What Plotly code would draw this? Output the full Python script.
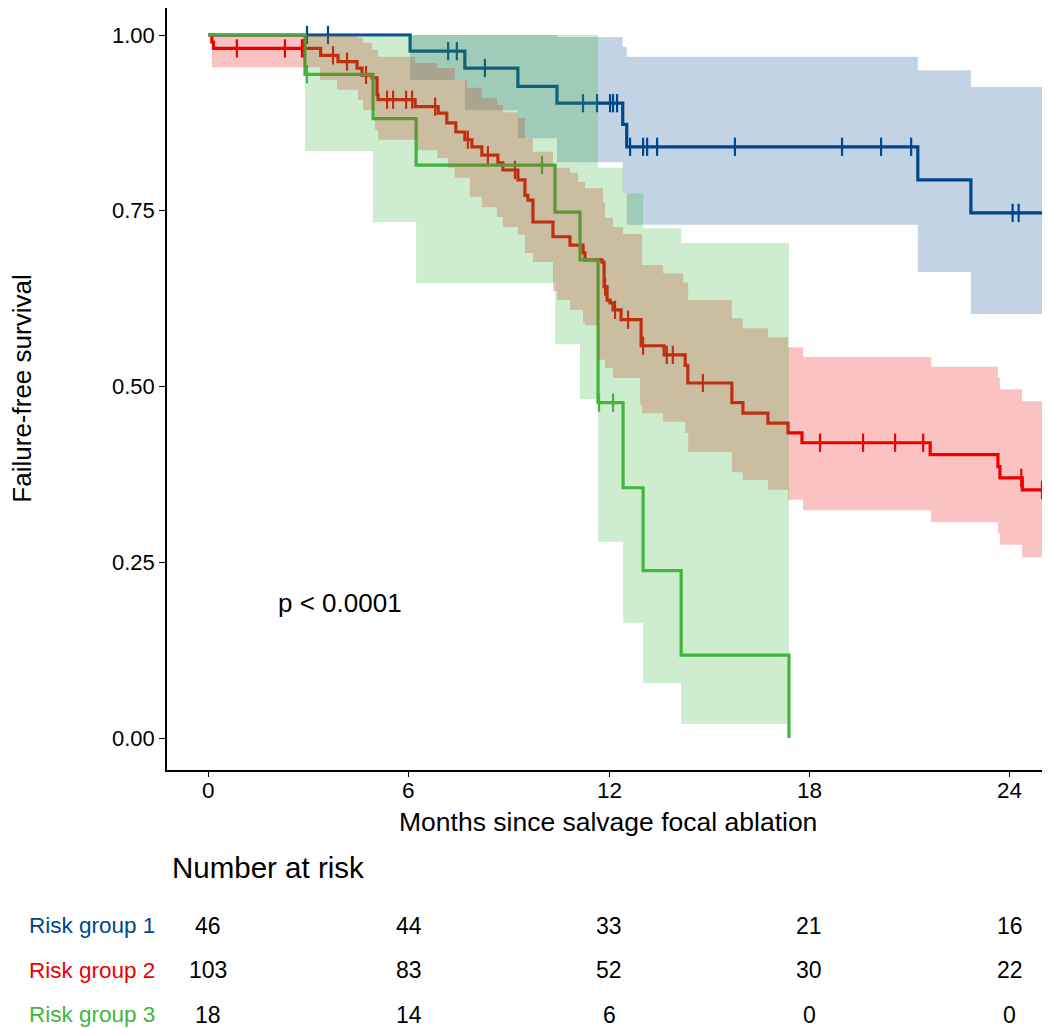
import numpy as np
import plotly.graph_objects as go

# ---------------- data ----------------
groups = ["Risk group 1", "Risk group 2", "Risk group 3"]
colors = ["#00468B", "#ED0000", "#42B540"]
band_rgba = ["rgba(0,70,139,0.24)", "rgba(237,0,0,0.24)", "rgba(66,181,64,0.26)"]

# Risk group 1 (KM steps)
g1_t = [0, 6.04, 7.68, 9.27, 10.44, 12.41, 12.53, 21.25, 22.84, 25.6]
g1_s = [1.0, 0.977, 0.953, 0.927, 0.903, 0.873, 0.841, 0.794, 0.747, 0.747]
g1_cens = [2.95, 3.58, 7.18, 7.44, 8.28, 11.22, 11.64, 12.03, 12.12, 12.24, 12.63,
           13.02, 13.14, 13.44, 15.77, 18.98, 20.15, 21.05, 24.09, 24.27]
g1_bt = [0, 6.04, 7.68, 9.27, 10.44, 12.41, 12.53, 21.25, 22.84, 25.6]
g1_lo = [1.0, 0.936, 0.893, 0.853, 0.819, 0.775, 0.730, 0.663, 0.603, 0.603]
g1_hi = [1.0, 1.0, 1.0, 1.0, 0.997, 0.983, 0.969, 0.950, 0.926, 0.926]

# Risk group 2
g2_t = [0, 0.10, 0.15, 3.36, 3.88, 4.45, 4.60, 4.90, 5.05, 5.08, 6.19, 6.88, 7.14,
        7.41, 7.68, 7.89, 8.19, 8.67, 8.82, 9.27, 9.48, 9.57, 9.72, 10.32, 10.83,
        11.22, 11.28, 11.79, 11.85, 11.94, 12.03, 12.12, 12.36, 12.96, 13.65,
        14.28, 14.36, 15.68, 16.01, 16.76, 17.36, 17.78, 21.62, 23.65, 23.71,
        24.38, 25.6]
g2_s = [1.0, 0.990, 0.981, 0.971, 0.962, 0.953, 0.943, 0.939, 0.915, 0.908, 0.898,
        0.889, 0.875, 0.862, 0.851, 0.841, 0.829, 0.818, 0.808, 0.794, 0.772, 0.765,
        0.734, 0.713, 0.701, 0.690, 0.680, 0.677, 0.642, 0.623, 0.619, 0.609, 0.595,
        0.558, 0.545, 0.530, 0.505, 0.477, 0.462, 0.448, 0.434, 0.420, 0.403, 0.386,
        0.370, 0.353, 0.353]
g2_cens = [0.85, 2.29, 2.80, 2.86, 3.73, 4.15, 4.72, 5.35, 5.53, 5.92, 6.10, 6.79,
           7.77, 8.37, 9.18, 11.88, 12.18, 12.57, 13.02, 13.73, 13.91, 14.81, 18.32,
           19.61, 20.57, 21.41, 24.35, 24.97]
g2_bt = [0, 0.10, 3.34, 3.85, 4.48, 4.63, 4.90, 4.99, 5.08, 6.19, 6.25, 6.85, 7.17,
         7.38, 7.74, 7.83, 8.19, 8.64, 8.82, 9.27, 9.48, 9.72, 10.32, 10.44, 10.83,
         11.07, 11.22, 11.28, 11.67, 11.82, 11.88, 12.12, 12.42, 12.93, 12.99, 13.62,
         14.22, 14.28, 14.37, 15.68, 16.01, 16.76, 17.36, 17.81, 21.65, 23.65, 23.71,
         24.37, 25.6]
g2_lo = [1.0, 0.954, 0.936, 0.922, 0.908, 0.893, 0.893, 0.865, 0.851, 0.851, 0.836,
         0.825, 0.811, 0.797, 0.797, 0.770, 0.755, 0.741, 0.727, 0.716, 0.690, 0.677,
         0.636, 0.623, 0.609, 0.609, 0.590, 0.587, 0.538, 0.538, 0.526, 0.512, 0.512,
         0.474, 0.462, 0.450, 0.450, 0.434, 0.407, 0.378, 0.367, 0.353, 0.339, 0.324,
         0.307, 0.291, 0.275, 0.257, 0.257]
g2_hi = [1.0, 1.0, 1.0, 1.0, 0.996, 0.989, 0.979, 0.979, 0.969, 0.960, 0.960, 0.953,
         0.953, 0.936, 0.925, 0.925, 0.910, 0.900, 0.890, 0.882, 0.853, 0.834, 0.815,
         0.811, 0.804, 0.791, 0.791, 0.782, 0.782, 0.762, 0.740, 0.727, 0.717, 0.717,
         0.673, 0.661, 0.648, 0.648, 0.623, 0.597, 0.583, 0.570, 0.556, 0.542, 0.528,
         0.512, 0.496, 0.479, 0.479]

# Risk group 3
g3_t = [0, 2.89, 4.93, 6.22, 10.38, 11.13, 11.67, 12.42, 13.02, 14.16, 17.39, 17.39]
g3_s = [1.0, 0.944, 0.881, 0.815, 0.748, 0.680, 0.477, 0.356, 0.238, 0.118, 0.0, 0.0]
g3_cens = [2.95, 9.99, 11.70, 12.12]
g3_bt = [0, 2.89, 4.93, 6.22, 10.38, 11.13, 11.67, 12.42, 13.02, 14.16, 17.39]
g3_lo = [1.0, 0.835, 0.734, 0.647, 0.560, 0.482, 0.279, 0.164, 0.078, 0.020, 0.020]
g3_hi = [1.0, 1.0, 1.0, 1.0, 1.0, 1.0, 0.811, 0.775, 0.725, 0.704, 0.704]

risk_times = [0, 6, 12, 18, 24]
risk_counts = [[46, 44, 33, 21, 16],
               [103, 83, 52, 30, 22],
               [18, 14, 6, 0, 0]]

x_ticks = [0, 6, 12, 18, 24]
x_tick_text = ["0", "6", "12", "18", "24"]
y_ticks = [0.0, 0.25, 0.5, 0.75, 1.0]
y_tick_text = ["0.00", "0.25", "0.50", "0.75", "1.00"]
pval_text = "p < 0.0001"

# ---------------- figure ----------------
FONT = "Liberation Sans, Arial, sans-serif"
fig = go.Figure()

curves = [(g1_t, g1_s, g1_cens), (g2_t, g2_s, g2_cens), (g3_t, g3_s, g3_cens)]
bands = [(g1_bt, g1_lo, g1_hi), (g2_bt, g2_lo, g2_hi), (g3_bt, g3_lo, g3_hi)]

# lines first
for i, (t, s, c) in enumerate(curves):
    fig.add_trace(go.Scatter(x=t, y=s, mode="lines", line=dict(color=colors[i], width=3.2, shape="hv"),
                             showlegend=False, hoverinfo="skip"))
    ta = np.array(t)
    sa = np.array(s)
    idx = np.searchsorted(ta, np.array(c), side="right") - 1
    fig.add_trace(go.Scatter(x=c, y=sa[idx], mode="markers",
                             marker=dict(symbol="line-ns", size=13, color=colors[i],
                                         line=dict(color=colors[i], width=2.2)),
                             showlegend=False, hoverinfo="skip"))

# confidence bands over the lines
for i, (bt, lo, hi) in enumerate(bands):
    xs, ys = [], []
    for k in range(len(bt) - 1):
        xs += [bt[k], bt[k + 1]]
        ys += [hi[k], hi[k]]
    xl, yl = [], []
    for k in range(len(bt) - 1):
        xl += [bt[k], bt[k + 1]]
        yl += [lo[k], lo[k]]
    px = xs + xl[::-1]
    py = ys + yl[::-1]
    fig.add_trace(go.Scatter(x=px, y=py, mode="lines", fill="toself", fillcolor=band_rgba[i],
                             line=dict(width=0), showlegend=False, hoverinfo="skip"))

annotations = []
annotations.append(dict(x=3.94, y=0.192, xref="x", yref="y", text=pval_text, showarrow=False,
                        font=dict(family=FONT, size=26, color="black"), xanchor="center", yanchor="middle"))
for v, txt in zip(x_ticks, x_tick_text):
    annotations.append(dict(x=v, y=-0.0085, xref="x", yref="paper", text=txt, showarrow=False,
                            font=dict(family=FONT, size=22.5, color="black"),
                            xanchor="center", yanchor="top"))
annotations.append(dict(x=0.5, y=-0.0682, xref="paper", yref="paper",
                        text="Months since salvage focal ablation", showarrow=False,
                        font=dict(family=FONT, size=26.5, color="black"), xanchor="center", yanchor="middle"))
annotations.append(dict(x=-0.165, y=0.5, xref="paper", yref="paper", text="Failure-free survival",
                        textangle=-90, showarrow=False, font=dict(family=FONT, size=26, color="black"),
                        xanchor="center", yanchor="middle"))
annotations.append(dict(x=0.003, y=-0.1286, xref="paper", yref="paper", text="Number at risk",
                        showarrow=False, font=dict(family=FONT, size=29.5, color="black"),
                        xanchor="left", yanchor="middle"))
row_y = [-0.2047, -0.2625, -0.3215]
for r in range(3):
    annotations.append(dict(x=-0.011, y=row_y[r], xref="paper", yref="paper", text=groups[r],
                            showarrow=False, font=dict(family=FONT, size=22.5, color=colors[r]),
                            xanchor="right", yanchor="middle"))
    for j, tt in enumerate(risk_times):
        annotations.append(dict(x=tt, y=row_y[r], xref="x", yref="paper", text=str(risk_counts[r][j]),
                                showarrow=False, font=dict(family=FONT, size=23, color="black"),
                                xanchor="center", yanchor="middle"))

# page body has an 8px margin: figure is sized/offset so the plot lands where the reference has it
fig.update_layout(
    width=1042, height=1020,
    margin=dict(l=159, r=2, t=0, b=258),
    plot_bgcolor="white", paper_bgcolor="white",
    showlegend=False,
    annotations=annotations,
    xaxis=dict(range=[-1.243, 25.15], tickvals=x_ticks, showticklabels=False,
               showline=True, linecolor="black", linewidth=1.6, ticks="outside", ticklen=5,
               tickwidth=1.4, tickcolor="black", showgrid=False, zeroline=False),
    yaxis=dict(range=[-0.0455, 1.0384], tickvals=y_ticks, ticktext=y_tick_text,
               showline=True, linecolor="black", linewidth=1.6, ticks="outside", ticklen=6,
               tickwidth=1.4, tickcolor="black", showgrid=False, zeroline=False,
               tickfont=dict(family=FONT, size=22, color="black")),
)

fig.write_html("out.html")
